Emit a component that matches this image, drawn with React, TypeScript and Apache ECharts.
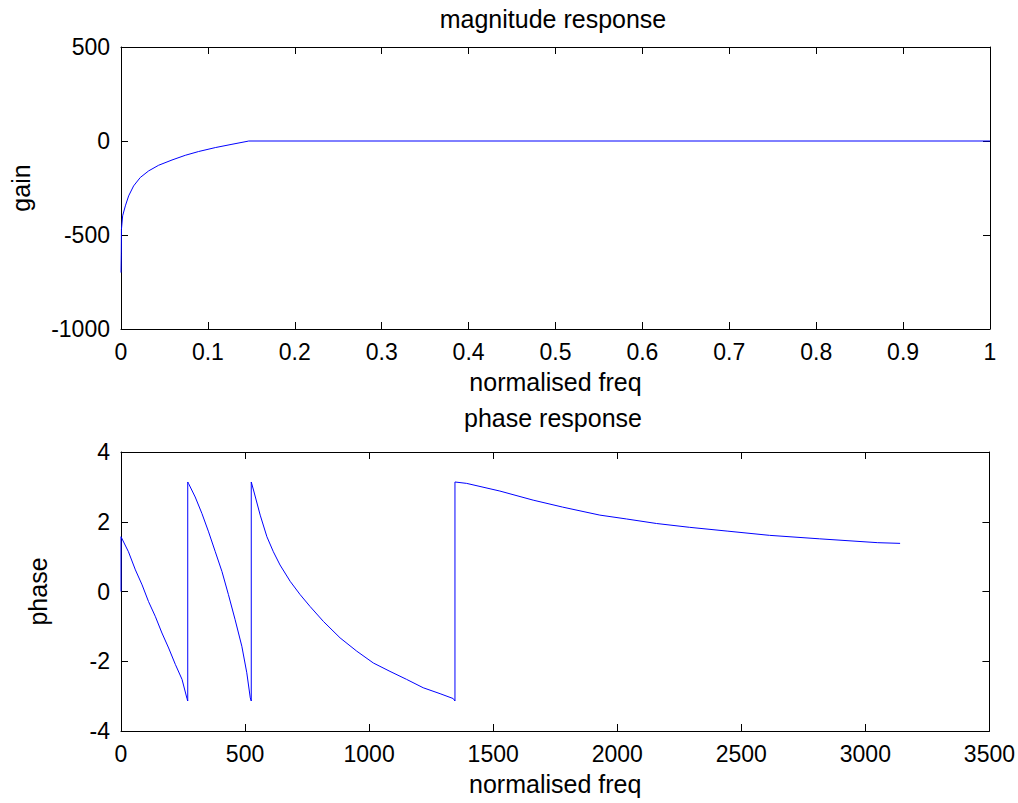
import React, { useEffect, useRef } from "react";
import * as echarts from "echarts";

// ---- magnitude response data (normalised freq, gain) ----
const magFreq = [0, 0.0003, 0.0005, 0.0019, 0.005, 0.0088, 0.0145, 0.0222, 0.0318, 0.0433, 0.0587, 0.074, 0.0893, 0.1085, 0.1277, 0.145, 0.147, 1.0];
const magGain = [-700, -600, -470, -398, -345, -292, -239, -194, -159, -129, -101, -76, -56, -35, -17.5, -2, 0, 0];

// ---- phase response data ----
const phaseFreq = [
  0, 0, 30, 58, 85, 111, 138, 165, 192, 219, 246, 266, 269,
  269, 272, 299, 326, 353, 380, 407, 433, 460, 487, 507, 521, 525,
  525, 534, 561, 588, 614, 641, 682, 722, 762, 816, 883, 950, 1017, 1084, 1151, 1218, 1286, 1339, 1346,
  1346, 1393, 1527, 1661, 1780, 1930, 2037, 2158, 2292, 2446, 2614, 2816, 3050, 3140,
];
const phaseVal = [
  0, 1.57, 1.14, 0.62, 0.19, -0.29, -0.71, -1.19, -1.62, -2.09, -2.52, -3.07, -3.14,
  3.14, 3.1, 2.71, 2.24, 1.71, 1.14, 0.57, -0.09, -0.81, -1.57, -2.33, -3.05, -3.14,
  3.14, 2.91, 2.19, 1.57, 1.14, 0.76, 0.29, -0.09, -0.43, -0.86, -1.33, -1.71, -2.05, -2.29, -2.52, -2.76, -2.93, -3.07, -3.14,
  3.14, 3.1, 2.88, 2.62, 2.42, 2.19, 2.08, 1.95, 1.84, 1.73, 1.61, 1.51, 1.4, 1.38,
];

const titles = ["magnitude response", "phase response"];
const xNames = ["normalised freq", "normalised freq"];
const yNames = ["gain", "phase"];

const FONT = "'Liberation Sans', Arial, sans-serif";
const BLACK = "#000";
const TICK_FS = 23;
const LABEL_FS = 25;

const fmt = (v: number) => String(Math.round(v * 1000) / 1000);

function baseAxis(extra: any) {
  return {
    type: "value",
    axisLine: { show: true, onZero: false, lineStyle: { color: BLACK, width: 1 } },
    axisTick: { show: true, inside: true, length: 7, lineStyle: { color: BLACK, width: 1 } },
    axisLabel: { show: true, color: BLACK, fontSize: TICK_FS, fontFamily: FONT, margin: 11, formatter: fmt },
    splitLine: { show: false },
    nameTextStyle: { color: BLACK, fontSize: LABEL_FS, fontFamily: FONT },
    ...extra,
  };
}

export default function App() {
  const ref = useRef<HTMLDivElement>(null);
  useEffect(() => {
    if (!ref.current) return;
    const chart = echarts.init(ref.current, undefined, { renderer: "svg" });
    const option: any = {
      animation: false,
      backgroundColor: "#fff",
      textStyle: { fontFamily: FONT },
      grid: [
        { left: 121, top: 47, width: 869, height: 282 },
        { left: 121, top: 452, width: 869, height: 279 },
      ],
      xAxis: [
        baseAxis({ gridIndex: 0, position: "bottom", min: 0, max: 1, interval: 0.1, name: xNames[0], nameLocation: "middle", nameGap: 40 }),
        baseAxis({ gridIndex: 0, position: "top", min: 0, max: 1, interval: 0.1, axisLabel: { show: false } }),
        baseAxis({ gridIndex: 1, position: "bottom", min: 0, max: 3500, interval: 500, name: xNames[1], nameLocation: "middle", nameGap: 40 }),
        baseAxis({ gridIndex: 1, position: "top", min: 0, max: 3500, interval: 500, axisLabel: { show: false } }),
      ],
      yAxis: [
        baseAxis({ gridIndex: 0, position: "left", min: -1000, max: 500, interval: 500, name: yNames[0], nameLocation: "middle", nameGap: 88, nameRotate: 90 }),
        baseAxis({ gridIndex: 0, position: "right", min: -1000, max: 500, interval: 500, axisLabel: { show: false } }),
        baseAxis({ gridIndex: 1, position: "left", min: -4, max: 4, interval: 2, name: yNames[1], nameLocation: "middle", nameGap: 71, nameRotate: 90 }),
        baseAxis({ gridIndex: 1, position: "right", min: -4, max: 4, interval: 2, axisLabel: { show: false } }),
      ],
      graphic: [
        {
          type: "text",
          x: 553,
          y: 19,
          style: { text: titles[0], fill: BLACK, fontSize: LABEL_FS, fontFamily: FONT, align: "center", verticalAlign: "middle" },
        },
        {
          type: "text",
          x: 553,
          y: 418,
          style: { text: titles[1], fill: BLACK, fontSize: LABEL_FS, fontFamily: FONT, align: "center", verticalAlign: "middle" },
        },
      ],
      series: [
        {
          type: "line",
          xAxisIndex: 0,
          yAxisIndex: 0,
          data: magFreq.map((f, i) => [f, magGain[i]]),
          symbol: "none",
          showSymbol: false,
          lineStyle: { color: "#0000ff", width: 1 },
          itemStyle: { color: "#0000ff" },
        },
        {
          type: "line",
          xAxisIndex: 2,
          yAxisIndex: 2,
          data: phaseFreq.map((f, i) => [f, phaseVal[i]]),
          symbol: "none",
          showSymbol: false,
          lineStyle: { color: "#0000ff", width: 1 },
          itemStyle: { color: "#0000ff" },
        },
      ],
    };
    chart.setOption(option);
    return () => chart.dispose();
  }, []);
  return <div ref={ref} style={{ position: "absolute", left: 0, top: 0, width: 1018, height: 803 }} />;
}
